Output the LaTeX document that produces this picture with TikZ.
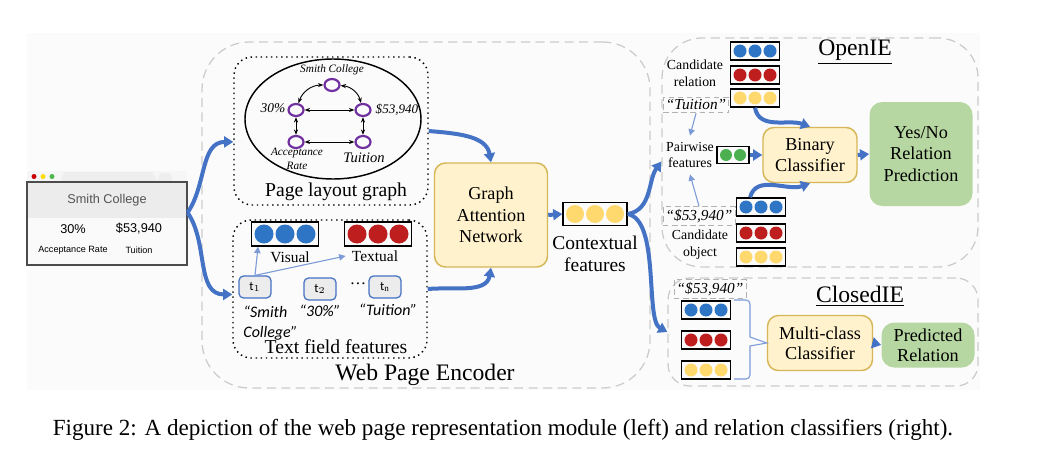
\documentclass[tikz,border=0pt]{standalone}
\usepackage{fontspec}
\setmainfont{Liberation Serif}
\setsansfont{Liberation Sans}
\newfontfamily\timesfont{Liberation Serif}
\newfontfamily\uisans{Carlito}
\usetikzlibrary{arrows.meta,shapes.geometric}

\definecolor{arrowblue}{RGB}{68,114,196}
\definecolor{thinblue}{RGB}{125,155,215}
\definecolor{dotblue}{RGB}{46,117,198}
\definecolor{dotred}{RGB}{190,30,30}
\definecolor{dotyellow}{RGB}{255,217,110}
\definecolor{dotgreen}{RGB}{76,175,80}
\definecolor{boxyellow}{RGB}{255,242,204}
\definecolor{edgeyellow}{RGB}{214,182,86}
\definecolor{boxgreen}{RGB}{183,215,162}
\definecolor{nodepurple}{RGB}{112,48,160}

% one pixel of the layout
\newcommand{\px}{0.55pt}
\newcommand{\fs}[2]{\fontsize{#1}{#2}\selectfont}
\newcommand{\rs}[2]{\timesfont\fontsize{#1}{#2}\selectfont}

\tikzset{
  flow/.style={arrowblue, line width=2.2pt, -{Triangle[length=5pt,width=6pt]}},
  thinflow/.style={thinblue, line width=0.6pt, -{Triangle[length=3.5pt,width=3.5pt]}},
  graphedge/.style={line width=0.5pt, {Stealth[length=3pt]}-{Stealth[length=3pt]}},
  pagenode/.style={ellipse, draw=nodepurple, line width=1.2pt, minimum width=15*\px, minimum height=12*\px, inner sep=0pt},
  module/.style={draw=edgeyellow, fill=boxyellow, line width=0.8pt, rounded corners=6pt, inner sep=0pt, align=center},
  result/.style={fill=boxgreen, rounded corners=7pt, inner sep=0pt, align=center},
  region/.style={draw=gray!40, dash pattern=on 5pt off 3pt, line width=0.7pt, inner sep=0pt},
  subregion/.style={draw, dotted, line width=0.8pt, rounded corners=10pt, inner sep=0pt},
  tag/.style={draw=gray!60, densely dashed, line width=0.5pt, inner sep=1.5pt, font=\rs{8.4}{10}\itshape},
  token/.style={draw=arrowblue, fill=gray!15, rounded corners=2.5pt, line width=0.7pt, minimum width=32*\px, minimum height=22*\px, font=\uisans\fs{7}{8}},
  vecbox/.style={draw, line width=0.8pt, inner sep=0pt},
  brace/.style={thinblue, line width=0.6pt},
}

% name, x, y, count, colour, dot size
\newcommand{\dotvec}[6]{%
  \node[vecbox, minimum width={(#4*(#6+2)+4)*\px}, minimum height={(#6+5)*\px}] (#1) at (#2,#3) {};
  \foreach \k in {1,...,#4}
    \fill[#5] ({#2-(#4*(#6+2)+4)/2+3+(\k-1)*(#6+2)+#6/2},#3) circle[radius=#6/2*\px];
}

\begin{document}
\begin{tikzpicture}[x=\px, y=-\px]
\useasboundingbox (0,0) rectangle (1043,468);
\fill[black!1.5] (27,33) rectangle (980,390);

% dashed regions
\node[region, rounded corners=26pt, minimum width=448*\px, minimum height=346*\px] (encoder) at (426,215) {};
\node[font=\rs{13}{15}] (encodername) at (425,375) {Web Page Encoder};
\node[region, rounded corners=22pt, minimum width=316*\px, minimum height=229*\px] (openie) at (820,152.5) {};
\node[font=\rs{13}{15}] (openiename) at (855,52) {\underline{OpenIE}};
\node[region, rounded corners=12pt, minimum width=310*\px, minimum height=108*\px] (closedie) at (823,332) {};
\node[font=\rs{13}{15}] (closediename) at (860,296) {\underline{ClosedIE}};

% web page
\fill[gray!7] (27,171) rectangle (187,182);
\fill[gray!13] (60,182) -- (64,172) -- (153,172) -- (157,182) -- cycle;
\fill[gray!13] (157,182) -- (160,173) -- (170,173) -- (173,182) -- cycle;
\fill[red!80!black] (34,176.5) circle[radius=2.5*\px];
\fill[yellow!80!orange] (43,176.5) circle[radius=2.5*\px];
\fill[green!60!black!70] (52,176.5) circle[radius=2.5*\px];
\fill[gray!15] (27,182) rectangle (187,218);
\fill[gray!4] (27,218) rectangle (187,265);
\node[draw=gray!60!black, line width=0.6pt, minimum width=160*\px, minimum height=83*\px, inner sep=0pt] (page) at (107,223.5) {};
\node[font=\sffamily\fs{7}{9}, text=gray!65!black] (pagetitle) at (107,200) {Smith College};
\node[font=\sffamily\fs{7}{9}] (pagerate) at (73,229) {30\%};
\node[font=\sffamily\fs{7}{9}] (pagefee) at (139,229) {\$53,940};
\node[font=\sffamily\fs{5}{7}] (pageratename) at (73,250) {Acceptance Rate};
\node[font=\sffamily\fs{5}{7}] (pagefeename) at (139,250) {Tuition};

% page layout graph
\node[subregion, minimum width=194*\px, minimum height=148*\px] (layout) at (331,131) {};
\draw[line width=0.8pt] (333,119) ellipse[x radius=88*\px, y radius=60*\px];
\node[pagenode] (gsc) at (332,85) {};
\node[pagenode] (gpct) at (296,110) {};
\node[pagenode] (gfee) at (363,110) {};
\node[pagenode] (gacc) at (296,142) {};
\node[pagenode] (gtui) at (363,142) {};
\draw[graphedge] (gsc) to[bend right=35] (gpct);
\draw[graphedge] (gsc) to[bend left=35] (gfee);
\draw[graphedge] (gpct) -- (gfee);
\draw[graphedge] (gpct) -- (gacc);
\draw[graphedge] (gfee) -- (gtui);
\draw[graphedge] (gacc) -- (gtui);
\node[font=\rs{6.2}{7}\itshape] (gscname) at (332,70) {Smith College};
\node[font=\rs{7.4}{8}\itshape] (gpctname) at (273,108) {30\%};
\node[font=\rs{7.2}{8}\itshape] (gfeename) at (397,110) {\$53,940};
\node[font=\rs{6.2}{7.5}\itshape, align=center] (gaccname) at (297,159) {Acceptance\\Rate};
\node[font=\rs{8}{9}\itshape] (gtuiname) at (364,158) {Tuition};
\node[font=\rs{10.8}{12}] (layoutname) at (336,192) {Page layout graph};

% text field features
\node[subregion, minimum width=194*\px, minimum height=138*\px] (fields) at (330,289) {};
\dotvec{visual}{285}{234}{3}{dotblue}{19}
\dotvec{textual}{378}{234}{3}{dotred}{19}
\node[font=\rs{8.5}{10}] (visualname) at (290,257) {Visual};
\node[font=\rs{8.5}{10}] (textualname) at (375,256) {Textual};
\node[token] (t1) at (255,287) {t$_1$};
\node[token] (t2) at (320,289) {t$_2$};
\node[token] (tn) at (385,287) {t$_{\mathrm{n}}$};
\node[font=\rs{9}{10}] (tdots) at (358,284) {\dots};
\draw[thinflow] (t1.north) -- ([xshift=4pt]visual.south west);
\draw[thinflow] (t1.north) -- (textualname.west);
\node[font=\uisans\itshape\fs{8.8}{10.5}, align=left, anchor=north west] (t1text) at (237,300) {“Smith\\College”};
\node[font=\uisans\itshape\fs{8.8}{10.5}] (t2text) at (320,311) {“30\%”};
\node[font=\uisans\itshape\fs{8.8}{10.5}] (tntext) at (388,310) {“Tuition”};
\node[font=\rs{10.8}{12}] (fieldsname) at (336,347) {Text field features};

% encoder
\node[module, minimum width=113*\px, minimum height=104*\px, font=\rs{10}{11.8}] (gat) at (491,215) {Graph\\Attention\\Network};
\dotvec{context}{595}{214}{3}{dotyellow}{18}
\node[font=\rs{10.7}{12}, align=center] (contextname) at (595,254) {Contextual\\features};

% OpenIE
\dotvec{relb}{755}{51}{3}{dotblue}{13}
\dotvec{relr}{755}{75}{3}{dotred}{13}
\dotvec{rely}{755}{98}{3}{dotyellow}{13}
\node[font=\rs{7.6}{9.2}, align=center] (relname) at (695,73) {Candidate\\relation};
\node[tag] (reltag) at (696,105) {“Tuition”};
\node[font=\rs{7.6}{9.2}, align=center] (pairname) at (690,155) {Pairwise\\features};
\dotvec{pair}{733}{155}{2}{dotgreen}{12}
\dotvec{objb}{761}{207}{3}{dotblue}{13}
\dotvec{objr}{761}{233}{3}{dotred}{13}
\dotvec{objy}{761}{257}{3}{dotyellow}{13}
\node[tag] (objtag) at (699,216) {“\$53,940”};
\node[font=\rs{7.6}{9.2}, align=center] (objname) at (700,245) {Candidate\\object};
\node[module, minimum width=94*\px, minimum height=55*\px, font=\rs{10}{12}] (binary) at (810,155) {Binary\\Classifier};
\node[result, minimum width=103*\px, minimum height=104*\px, font=\rs{10}{12}] (yesno) at (921,154) {Yes/No\\Relation\\Prediction};
\draw[thinflow] (reltag.south) -- (pairname.north);
\draw[thinflow] (objtag.north) -- (pairname.south);
\draw[flow] (rely.south) to[out=-80, in=160] (binary.north);
\draw[flow] (pair.east) -- (binary.west);
\draw[flow] ([xshift=-6pt]objb.north) to[out=75, in=-160] (binary.south);
\draw[flow] (binary.east) -- (yesno.west);

% ClosedIE
\node[tag] (closedtag) at (710,289) {“\$53,940”};
\dotvec{clsb}{706}{310}{3}{dotblue}{13}
\dotvec{clsr}{706}{340}{3}{dotred}{13}
\dotvec{clsy}{706}{370}{3}{dotyellow}{13}
\node[module, minimum width=105*\px, minimum height=55*\px, font=\rs{10}{11}] (multi) at (820,343) {Multi-class\\Classifier};
\node[result, minimum width=93*\px, minimum height=45*\px, font=\rs{10}{11}] (predicted) at (928,345) {Predicted\\Relation};
\draw[brace] (734,300) -- (746,300) to[out=0, in=90] (750,304) -- (750,337) -- (multi.west) -- (750,346) -- (750,375) to[out=-90, in=0] (746,379) -- (734,379);
\draw[flow] (multi.east) -- (predicted.west);

% main flow
\draw[flow] ([yshift=6pt]page.east) to[out=55, in=180] ([yshift=-6pt]layout.west);
\draw[flow] ([yshift=6pt]page.east) to[out=-55, in=180] ([yshift=-3pt]fields.west);
\draw[flow] (layout.east) to[out=-5, in=100] (gat.north);
\draw[flow] (fields.east) to[out=5, in=-100] (gat.south);
\draw[flow] (gat.east) -- (context.west);
\draw[flow] (context.east) .. controls (652,210) and (648,180) .. ([yshift=-5pt]openie.west);
\draw[flow] (context.east) .. controls (660,220) and (645,320) .. (closedie.west);

% caption
\node[font=\rs{12.7}{14}] (caption) at (503,430) {Figure 2: A depiction of the web page representation module (left) and relation classifiers (right).};
\end{tikzpicture}
\end{document}
